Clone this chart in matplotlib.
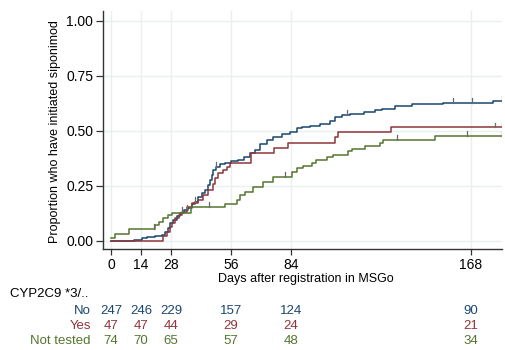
import numpy as np
import matplotlib
matplotlib.use("Agg")
import matplotlib.pyplot as plt
from matplotlib.transforms import blended_transform_factory

plt.rcParams['font.family'] = ['Liberation Sans', 'DejaVu Sans']

# Cumulative proportion initiating siponimod (step changes: day, value)
no_days = [0, 10.7, 14.3, 16.7, 20.5, 23.7, 25.2, 26.5, 27.5, 29.1, 30.7, 32.2, 34.1,
           35.9, 37.8, 39.2, 40.6, 42.3, 43.9, 45.4, 46.2, 47.0, 47.7, 48.9, 50.9,
           53.2, 56.0, 59.4, 61.9, 64.9, 67.2, 69.5, 72.6, 75.7, 79.6, 83.5, 86.6,
           89.0, 92.9, 97.5, 102.2, 104.5, 107.8, 111.5, 118.1, 123.2, 126.5, 132.5,
           140.5, 154.9, 178.3, 182.3]
no_vals = [0, 0.005, 0.01, 0.015, 0.02, 0.026, 0.041, 0.056, 0.079, 0.094, 0.112, 0.124,
           0.14, 0.15, 0.165, 0.175, 0.197, 0.215, 0.23, 0.253, 0.276, 0.30, 0.321, 0.336,
           0.349, 0.355, 0.36, 0.367, 0.379, 0.397, 0.412, 0.44, 0.458, 0.47, 0.485,
           0.496, 0.511, 0.518, 0.522, 0.532, 0.545, 0.56, 0.57, 0.578, 0.585, 0.595,
           0.60, 0.61, 0.62, 0.626, 0.634, 0.634]
no_cens = [35.3, 39.2, 49.0, 110.3, 159.6, 168.5, 182.3]

yes_days = [0, 24.4, 26.0, 27.5, 28.3, 29.9, 31.7, 33.3, 35.3, 37.9, 40.5, 43.1, 45.4,
            47.7, 48.5, 50.1, 52.4, 54.0, 55.5, 65.3, 76.2, 82.4, 104.5, 106.1, 130.5,
            182.3]
yes_vals = [0, 0.02, 0.041, 0.061, 0.079, 0.102, 0.117, 0.132, 0.152, 0.17, 0.185, 0.208,
            0.23, 0.258, 0.284, 0.306, 0.321, 0.336, 0.355, 0.397, 0.42, 0.445, 0.473,
            0.496, 0.515, 0.515]
yes_cens = [33.3, 179.2, 182.3]

nt_days = [0, 1.9, 8.4, 20.5, 22.4, 24.3, 26.5, 28.3, 37.3, 53.2, 58.7, 60.2, 62.5, 66.3,
           70.9, 75.6, 84.5, 86.7, 89.5, 93.7, 95.7, 100.7, 103.6, 110.6, 112.3, 118.5,
           125.5, 127.1, 151.2, 182.3]
nt_vals = [0.011, 0.029, 0.052, 0.071, 0.086, 0.105, 0.117, 0.127, 0.153, 0.167, 0.185,
           0.208, 0.223, 0.245, 0.265, 0.29, 0.314, 0.329, 0.341, 0.355, 0.367, 0.379,
           0.39, 0.409, 0.417, 0.43, 0.445, 0.458, 0.476, 0.476]
nt_cens = [20.2, 45.7, 81.2, 133.3, 166.3, 182.3]

# Number at risk table
risk_days = [0, 14, 28, 56, 84, 168]
risk_no = [247, 246, 229, 157, 124, 90]
risk_yes = [47, 47, 44, 29, 24, 21]
risk_nt = [74, 70, 65, 57, 48, 34]

group_labels = ["No", "Yes", "Not tested"]
colors = ["#1a476f", "#90353b", "#55752f"]
cens_color = "#6a6a6a"

fig = plt.figure(figsize=(5.05, 3.5), dpi=100)
ax = fig.add_axes([103 / 505, 1 - 249 / 350, (502 - 103) / 505, (249 - 11) / 350])

ax.set_xlim(-3.7, 182.5)
ax.set_ylim(-0.038, 1.044)

grid_c = "#e9f0f1"
for d in risk_days:
    ax.axvline(d, color=grid_c, lw=1.0, zorder=0)
for yv in [0, 0.25, 0.5, 0.75, 1.0]:
    ax.axhline(yv, color=grid_c, lw=1.0, zorder=0)

series = [(no_days, no_vals, no_cens), (yes_days, yes_vals, yes_cens),
          (nt_days, nt_vals, nt_cens)]
for (d, v, cens), c in zip(series, colors):
    ax.step(d, v, where="post", color=c, lw=1.1, zorder=3)
    d_arr = np.asarray(d)
    v_arr = np.asarray(v)
    for t in cens:
        idx = np.searchsorted(d_arr, t, side="right") - 1
        lvl = v_arr[max(idx, 0)]
        ax.plot([t, t], [lvl, lvl + 0.022], color=cens_color, lw=0.9, zorder=4)

ax.set_xticks(risk_days)
ax.set_yticks([0, 0.25, 0.5, 0.75, 1.0])
ax.set_yticklabels(["0.00", "0.25", "0.50", "0.75", "1.00"])
ax.tick_params(axis="x", length=4, width=0.9, pad=2.5, labelsize=10, color="#333333")
ax.tick_params(axis="y", length=5, width=0.9, pad=2, labelsize=10, color="#333333")
for s in ["top", "right"]:
    ax.spines[s].set_visible(False)
for s in ["left", "bottom"]:
    ax.spines[s].set_color("#333333")
    ax.spines[s].set_linewidth(1.0)

fig.text(55 / 505, 1 - 132 / 350, "Proportion who have initiated siponimod",
         rotation=90, ha="center", va="center", fontsize=9)
fig.text(306 / 505, 1 - 279 / 350, "Days after registration in MSGo",
         ha="center", va="center", fontsize=9)

# Number at risk
tr = blended_transform_factory(ax.transData, fig.transFigure)
fig.text(10 / 505, 1 - 294 / 350, "CYP2C9 *3/..", ha="left", va="center", fontsize=9.5)
row_y = [1 - 310.7 / 350, 1 - 326 / 350, 1 - 341 / 350]
for lab, vals, c, yy in zip(group_labels, [risk_no, risk_yes, risk_nt], colors, row_y):
    fig.text(91 / 505, yy, lab, ha="right", va="center", fontsize=9.5, color=c)
    for d, n in zip(risk_days, vals):
        fig.text(d, yy, str(n), transform=tr, ha="center", va="center",
                 fontsize=9.5, color=c)

fig.savefig("out.png", dpi=100)
